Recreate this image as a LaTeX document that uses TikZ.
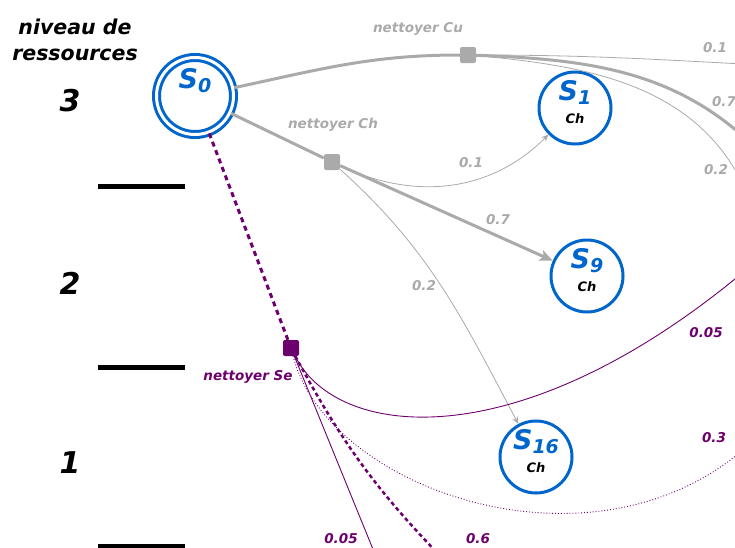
\documentclass[tikz,border=0pt]{standalone}
\usepackage{fontspec}
\setmainfont{DejaVu Sans}
\usepackage{xcolor}
\usepackage{tikz}
\usetikzlibrary{arrows.meta, positioning}

\definecolor{bleuetat}{RGB}{0,102,204}
\definecolor{grisact}{RGB}{170,170,170}
\definecolor{violetact}{RGB}{108,0,108}

\newcommand{\nometat}[1]{{\fontsize{27}{28}\selectfont S\raisebox{-4pt}{\fontsize{19}{20}\selectfont #1}}}
\newcommand{\ressource}[1]{{\color{black}#1}\rule[-12pt]{0pt}{0pt}}

\begin{document}
\begin{tikzpicture}[x=1pt, y=1pt,
  every node/.style={font=\bfseries\itshape},
  etat/.style={circle, draw=bleuetat, line width=3pt, minimum size=72pt,
    inner sep=0pt, align=center, text=bleuetat,
    font=\fontsize{13}{23}\selectfont\bfseries\itshape},
  action/.style={rectangle, rounded corners=2pt, minimum size=16pt, inner sep=0pt},
  proba/.style={font=\fontsize{13.5}{15}\selectfont\bfseries\itshape},
  niveau/.style={font=\fontsize{30}{32}\selectfont\bfseries\itshape},
  grisfort/.style={draw=grisact, line width=3pt},
  grisfin/.style={draw=grisact, line width=0.8pt},
  violetfin/.style={draw=violetact, line width=0.9pt}]

\useasboundingbox (0,0) rectangle (735,-547);
\clip (0,0) rectangle (735,-547);

% niveaux de ressources
\node[align=center, font=\fontsize{20.5}{26}\selectfont\bfseries\itshape] (titre) at (75,-40) {niveau de\\ressources};
\node[niveau] (niv3) at (70,-101) {3};
\node[niveau] (niv2) at (70,-283) {2};
\node[niveau] (niv1) at (70,-463) {1};
\foreach \y in {186,367,546}
  \draw[line width=5pt] (98,-\y) -- (185,-\y);

% etats
\node[etat, double=white, double distance=3pt, minimum size=77pt] (S0) at (195,-96)
  {\nometat{0}\\\ressource{\phantom{Ch}}};
\node[etat] (S1) at (575,-108) {\nometat{1}\\\ressource{Ch}};
\node[etat] (S9) at (587,-276) {\nometat{9}\\\ressource{Ch}};
\node[etat] (S16) at (536,-457) {\nometat{16}\\\ressource{Ch}};

% actions
\node[action, fill=grisact] (cu) at (468,-55) {};
\node[action, fill=grisact] (ch) at (332,-162) {};
\node[action, fill=violetact] (se) at (291,-348) {};
\node[proba, text=grisact] (lcu) at (418,-29) {nettoyer Cu};
\node[proba, text=grisact] (lch) at (333,-125) {nettoyer Ch};
\node[proba, text=violetact] (lse) at (248,-377) {nettoyer Se};

% sorties hors cadre
\coordinate (sortie1) at (780,-66);
\coordinate (sortie2) at (772,-165);
\coordinate (sortie3) at (750,-200);
\coordinate (sortie4) at (780,-240);
\coordinate (sortie5) at (785,-405);
\coordinate (sortie6) at (448,-564);
\coordinate (sortie7) at (379,-564);

% nettoyer Cu
\draw[grisfort] (S0) to[out=12, in=180] (cu);
\draw[grisfin] (cu) to[out=0, in=177] (sortie1);
\draw[grisfort] (cu) to[out=-2, in=132] (sortie2);
\draw[grisfin] (cu) to[out=-5, in=112] (sortie3);
\node[proba, text=grisact] (p1) at (715,-48) {0.1};
\node[proba, text=grisact] (p2) at (724,-102) {0.7};
\node[proba, text=grisact] (p3) at (716,-170) {0.2};

% nettoyer Ch
\draw[grisfort] (S0) -- (ch);
\draw[grisfin, -{Stealth[length=7pt, width=6pt]}] (ch) to[out=-25, in=-135] (S1);
\draw[grisfort, -{Stealth[length=13pt, width=11pt, inset=3pt]}] (ch) -- (S9);
\draw[grisfin, -{Stealth[length=7pt, width=6pt]}] (ch) to[out=-42, in=118] (S16);
\node[proba, text=grisact] (p4) at (471,-163) {0.1};
\node[proba, text=grisact] (p5) at (498,-220) {0.7};
\node[proba, text=grisact] (p6) at (424,-286) {0.2};

% nettoyer Se
\draw[draw=violetact, line width=3pt, dash pattern=on 5pt off 4pt] (S0) -- (se);
\draw[violetfin] (se) .. controls (340,-445) and (540,-460) .. (sortie4);
\draw[violetfin, dotted] (se) .. controls (330,-500) and (640,-600) .. (sortie5);
\draw[draw=violetact, line width=2.5pt, dash pattern=on 4pt off 3pt] (se) to[bend right=8] (sortie6);
\draw[violetfin] (se) -- (sortie7);
\node[proba, text=violetact] (p7) at (706,-333) {0.05};
\node[proba, text=violetact] (p8) at (714,-438) {0.3};
\node[proba, text=violetact] (p9) at (478,-539) {0.6};
\node[proba, text=violetact] (p10) at (341,-539) {0.05};

\end{tikzpicture}
\end{document}
